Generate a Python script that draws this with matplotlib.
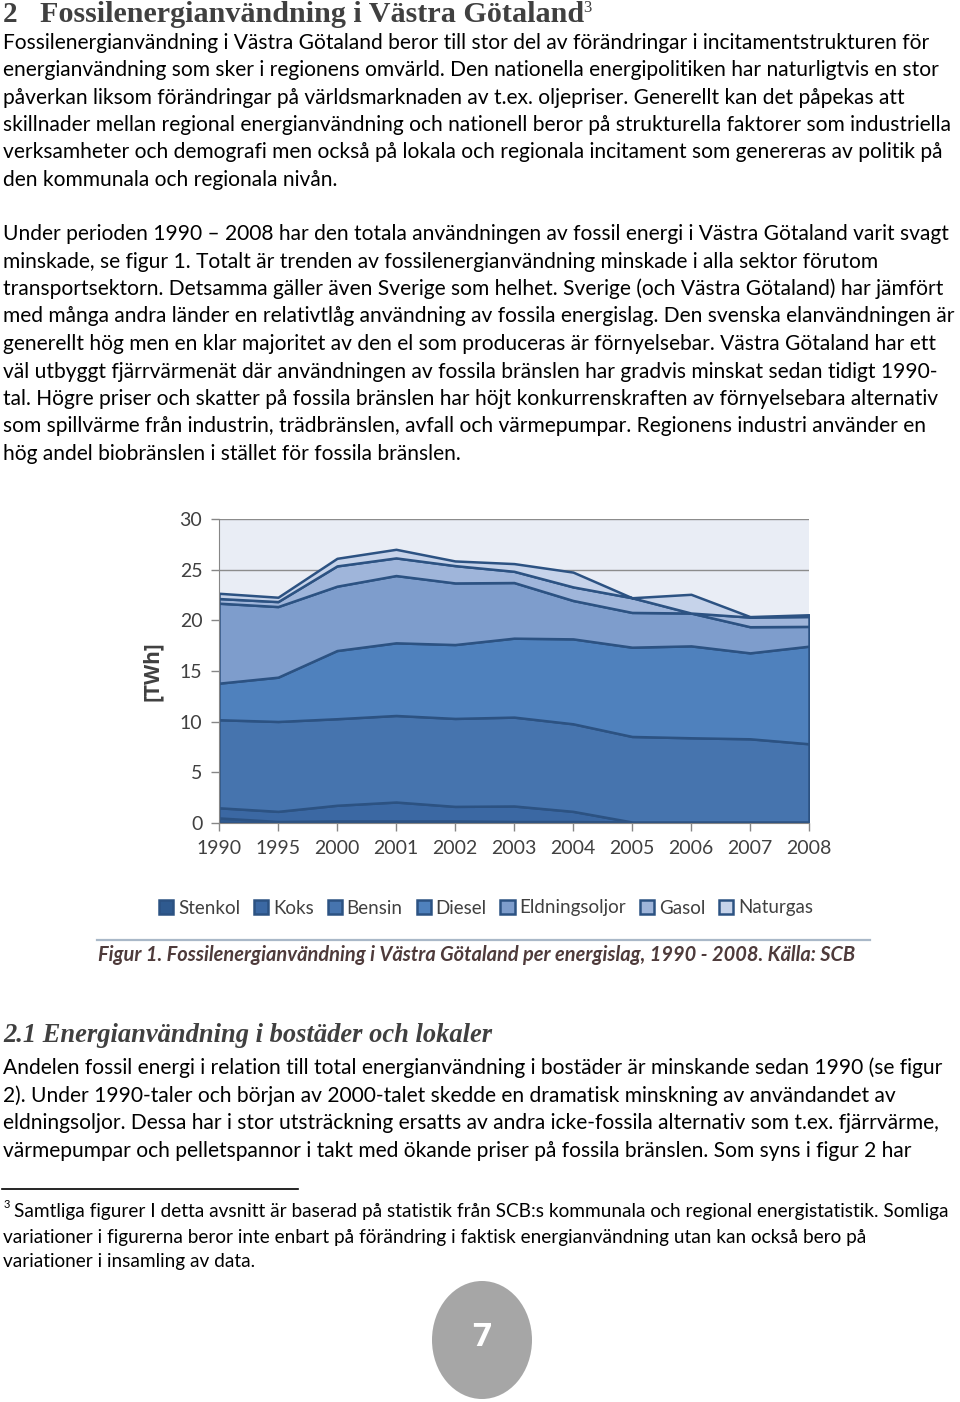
import numpy as np
import matplotlib.pyplot as plt
from matplotlib.lines import Line2D
from matplotlib.patches import Ellipse

W, H = 960, 1402

years = ['1990', '1995', '2000', '2001', '2002', '2003', '2004', '2005', '2006', '2007', '2008']
stenkol = [0.5, 0.15, 0.2, 0.2, 0.2, 0.15, 0.15, 0.1, 0.1, 0.1, 0.1]
koks = [1.0, 1.0, 1.55, 1.87, 1.44, 1.53, 1.0, 0.0, 0.0, 0.0, 0.0]
bensin = [8.69, 8.87, 8.54, 8.54, 8.68, 8.77, 8.64, 8.44, 8.31, 8.21, 7.72]
diesel = [3.61, 4.37, 6.73, 7.17, 7.29, 7.79, 8.38, 8.81, 9.07, 8.48, 9.63]
eldningsoljor = [7.89, 6.97, 6.35, 6.64, 6.08, 5.49, 3.79, 3.43, 3.24, 2.58, 1.95]
gasol = [0.46, 0.49, 2.0, 1.74, 1.71, 1.11, 1.34, 1.45, 0.0, 0.95, 0.98]
naturgas = [0.52, 0.43, 0.75, 0.85, 0.46, 0.76, 1.46, 0.0, 1.85, 0.05, 0.17]
series_names = ['Stenkol', 'Koks', 'Bensin', 'Diesel', 'Eldningsoljor', 'Gasol', 'Naturgas']
colors = ['#2f5a8f', '#3b68a3', '#4674ae', '#4f81bd', '#7e9dcc', '#9fb5da', '#c6d3ea']

para1 = [
    "Fossilenergianvändning i Västra Götaland beror till stor del av förändringar i incitamentstrukturen för",
    "energianvändning som sker i regionens omvärld. Den nationella energipolitiken har naturligtvis en stor",
    "påverkan liksom förändringar på världsmarknaden av t.ex. oljepriser. Generellt kan det påpekas att",
    "skillnader mellan regional energianvändning och nationell beror på strukturella faktorer som industriella",
    "verksamheter och demografi men också på lokala och regionala incitament som genereras av politik på",
    "den kommunala och regionala nivån.",
]
para2 = [
    "Under perioden 1990 – 2008 har den totala användningen av fossil energi i Västra Götaland varit svagt",
    "minskade, se figur 1. Totalt är trenden av fossilenergianvändning minskade i alla sektor förutom",
    "transportsektorn. Detsamma gäller även Sverige som helhet. Sverige (och Västra Götaland) har jämfört",
    "med många andra länder en relativtlåg användning av fossila energislag. Den svenska elanvändningen är",
    "generellt hög men en klar majoritet av den el som produceras är förnyelsebar. Västra Götaland har ett",
    "väl utbyggt fjärrvärmenät där användningen av fossila bränslen har gradvis minskat sedan tidigt 1990-",
    "tal. Högre priser och skatter på fossila bränslen har höjt konkurrenskraften av förnyelsebara alternativ",
    "som spillvärme från industrin, trädbränslen, avfall och värmepumpar. Regionens industri använder en",
    "hög andel biobränslen i stället för fossila bränslen.",
]
para3 = [
    "Andelen fossil energi i relation till total energianvändning i bostäder är minskande sedan 1990 (se figur",
    "2). Under 1990-taler och början av 2000-talet skedde en dramatisk minskning av användandet av",
    "eldningsoljor. Dessa har i stor utsträckning ersatts av andra icke-fossila alternativ som t.ex. fjärrvärme,",
    "värmepumpar och pelletspannor i takt med ökande priser på fossila bränslen. Som syns i figur 2 har",
]
footnote = [
    "Samtliga figurer I detta avsnitt är baserad på statistik från SCB:s kommunala och regional energistatistik. Somliga",
    "variationer i figurerna beror inte enbart på förändring i faktisk energianvändning utan kan också bero på",
    "variationer i insamling av data.",
]

fig = plt.figure(figsize=(W / 100, H / 100), dpi=100)
fig.patch.set_facecolor('white')
renderer = fig.canvas.get_renderer()


def fx(x):
    return x / W


def fy(y):
    return 1 - y / H


def block(lines, x0, y0, dy, target_w, **kw):
    # shrink/grow the whole block so its widest line spans target_w pixels
    texts = [fig.text(fx(x0), fy(y0 + i * dy), s, ha='left', va='center', fontsize=12, **kw)
             for i, s in enumerate(lines)]
    wmax = max(t.get_window_extent(renderer).width for t in texts)
    for t in texts:
        t.set_fontsize(12 * target_w / wmax)
    return texts


serif = ['Liberation Serif', 'DejaVu Serif']
heading_col = '#404040'

# headings
fig.text(fx(3), fy(15), '2', ha='left', va='center', family=serif,
         fontweight='bold', fontsize=21, color=heading_col)
block(['Fossilenergianvändning i Västra Götaland'], 40, 15, 0, 540,
      family=serif, fontweight='bold', color=heading_col)
fig.text(fx(583), fy(8), '3', ha='left', va='center', family=serif,
         fontsize=12, color=heading_col)

block(para1, 3, 43, 27.3, 948, family='Lato', color='black')
block(para2, 3, 234, 27.5, 948, family='Lato', color='black')

# chart
ax = fig.add_axes([fx(219), fy(823), (809 - 219) / W, (823 - 519) / H])
x = np.arange(len(years))
polys = ax.stackplot(x, stenkol, koks, bensin, diesel, eldningsoljor, gasol, naturgas,
                     colors=colors, edgecolor='#2c5282', linewidth=1.8, labels=series_names,
                     zorder=2)
ax.set_facecolor('#e9edf5')
ax.set_xlim(0, len(years) - 1)
ax.set_ylim(0, 30)
ax.set_yticks(np.arange(0, 31, 5))
ax.set_xticks(x)
ax.set_xticklabels(years)
ax.grid(axis='y', color='#8c8c8c', linewidth=1, zorder=1)
ax.set_axisbelow(True)
for s in ['top', 'right']:
    ax.spines[s].set_visible(False)
for s in ['left', 'bottom']:
    ax.spines[s].set_color('#868686')
ax.tick_params(axis='both', colors='#868686', length=6, width=1, labelcolor='#404040',
               labelsize=14, pad=6)
for lab in ax.get_xticklabels() + ax.get_yticklabels():
    lab.set_family('Lato')
ax.set_ylabel('[TWh]', family=['Open Sans', 'DejaVu Sans'], fontweight='bold', fontsize=15,
              color='#404040', labelpad=12)

leg = fig.legend(polys, series_names, loc='center', ncol=7, bbox_to_anchor=(fx(486), fy(908)),
                 frameon=False, handlelength=0.75, handleheight=0.75, handletextpad=0.25,
                 columnspacing=0.75, prop={'family': 'Lato', 'size': 13.5})
for t in leg.get_texts():
    t.set_color('#404040')

# caption
fig.add_artist(Line2D([fx(97), fx(870)], [fy(940), fy(940)], color='#a9b8c8', lw=1.6))
block(['Figur 1. Fossilenergianvändning i Västra Götaland per energislag, 1990 - 2008. Källa: SCB'],
      98, 955, 0, 755, family='Lato', style='italic', fontweight='bold', color='#4e3b3b')

block(['2.1 Energianvändning i bostäder och lokaler'], 3, 1035, 0, 490,
      family=serif, style='italic', fontweight='bold', color=heading_col)
block(para3, 3, 1068, 27.7, 936, family='Lato', color='black')

# footnote
fig.add_artist(Line2D([fx(2), fx(298)], [fy(1189), fy(1189)], color='black', lw=1.2))
fig.text(fx(4), fy(1205), '3', ha='left', va='center', family='Lato', fontsize=8, color='black')
fn = block(footnote, 14, 1212, 25, 932, family='Lato', color='black')
fn[1].set_x(fx(3))
fn[2].set_x(fx(3))

# page number
fig.add_artist(Ellipse((fx(482), fy(1340)), 100 / W, 118 / H, transform=fig.transFigure,
                       facecolor='#a6a6a6', edgecolor='none'))
fig.text(fx(482), fy(1338), '7', ha='center', va='center', family=['Open Sans', 'DejaVu Sans'],
         fontweight='bold', fontsize=24, color='white')

fig.savefig('out.png', dpi=100, facecolor='white')
